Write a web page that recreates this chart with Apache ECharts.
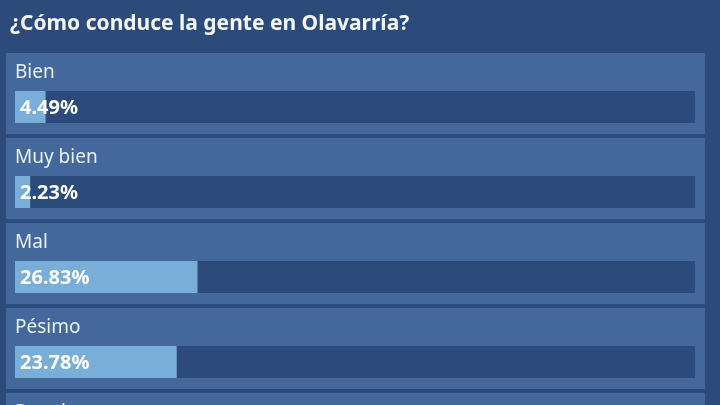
<!DOCTYPE html>
<html>
<head>
<meta charset="utf-8">
<script src="https://cdn.jsdelivr.net/npm/echarts@6/dist/echarts.min.js"></script>
<style>
  html, body { margin: 0; padding: 0; background: #2c4b7b; }
  #chart { width: 720px; height: 405px; }
</style>
</head>
<body>
<div id="chart"></div>
<script>
var titleText = '¿Cómo conduce la gente en Olavarría?';
var categories = ['Bien', 'Muy bien', 'Mal', 'Pésimo', 'Regular'];
var percents = [4.49, 2.23, 26.83, 23.78, 42.67];

var font = '"Noto Sans", "DejaVu Sans", sans-serif';
var rowPitch = 85;   // px per row
var gridTop = 51;
var gridH = 405 - gridTop;

function renderRow(params, api) {
  var idx = api.value(0);
  var v = api.value(1);
  var start = api.coord([0, idx]);
  var end = api.coord([v, idx]);
  var full = api.coord([100, idx]);
  var band = api.size([0, 1])[1];
  var top = start[1] - band / 2;
  var trackTop = top + 40;
  var trackH = 32;

  return {
    type: 'group',
    children: [
      { // panel
        type: 'rect',
        shape: { x: start[0] - 9, y: top + 2, width: full[0] - start[0] + 19, height: band - 4 },
        style: { fill: '#45689c' }
      },
      {
        type: 'text',
        style: {
          text: categories[idx], x: start[0], y: top + 22,
          fill: '#e9eff7', fontSize: 19, fontFamily: font, verticalAlign: 'middle'
        }
      },
      { // track
        type: 'rect',
        shape: { x: start[0], y: trackTop, width: full[0] - start[0], height: trackH },
        style: { fill: '#2c4b7a' }
      },
      { // fill
        type: 'rect',
        shape: { x: start[0], y: trackTop, width: end[0] - start[0], height: trackH },
        style: { fill: '#79aed8' }
      },
      {
        type: 'text',
        style: {
          text: v.toFixed(2) + '%', x: start[0] + 5, y: trackTop + trackH / 2 + 1,
          fill: '#ffffff', fontSize: 20, fontWeight: 'bold', fontFamily: font, verticalAlign: 'middle'
        }
      }
    ]
  };
}

var chart = echarts.init(document.getElementById('chart'));
chart.setOption({
  backgroundColor: '#2c4b7b',
  animation: false,
  title: {
    text: titleText,
    left: 5,
    top: 9,
    textStyle: { color: '#f4f7fb', fontSize: 21, fontWeight: 'bold', fontFamily: font }
  },
  grid: { left: 15, width: 680, top: gridTop, height: gridH },
  xAxis: { type: 'value', min: 0, max: 100, show: false },
  // rows are 1 unit each; range set so one unit = rowPitch px
  yAxis: { type: 'value', inverse: true, min: -0.5, max: -0.5 + gridH / rowPitch, show: false },
  series: [{
    type: 'custom',
    renderItem: renderRow,
    encode: { x: 1, y: 0 },
    clip: false,
    data: percents.map(function (v, i) { return [i, v]; })
  }]
});
</script>
</body>
</html>
